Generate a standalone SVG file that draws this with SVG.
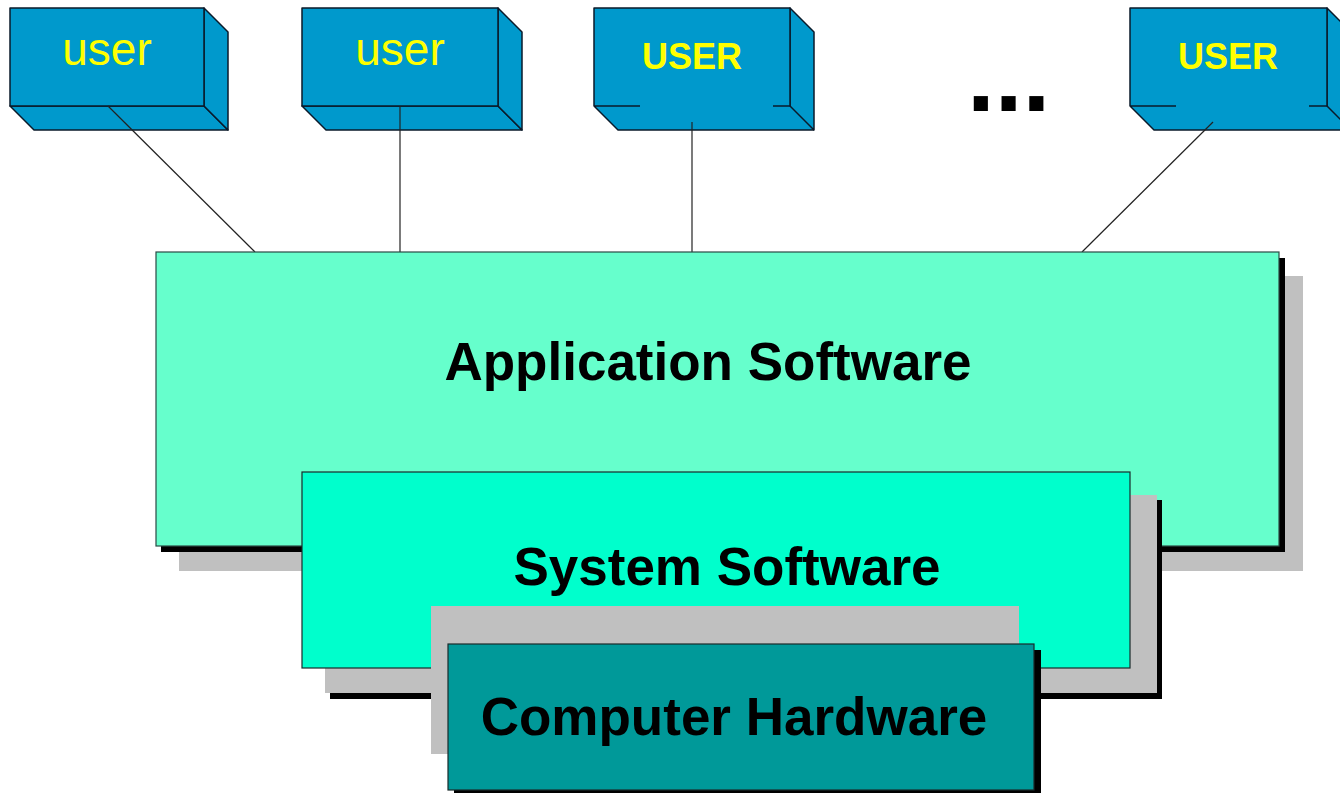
<svg xmlns="http://www.w3.org/2000/svg" width="1340" height="793" viewBox="0 0 1340 793">
<style>
.face{fill:#0099CC;stroke:#0a1a2a;stroke-width:1.5;stroke-linejoin:round}
.facens{fill:#0099CC;stroke:none}
.edge{stroke:#0a1a2a;stroke-width:1.5;fill:none;stroke-linejoin:round}
.ulow{font-family:"Liberation Sans",Arial,sans-serif;font-size:46px;fill:#FFFF00;text-anchor:middle}
.uup{font-family:"Liberation Sans",Arial,sans-serif;font-size:36px;font-weight:bold;fill:#FFFF00;text-anchor:middle}
.big{font-family:"Liberation Sans",Arial,sans-serif;font-size:53px;font-weight:bold;fill:#000;text-anchor:middle}
.gray{fill:#C0C0C0}
.blk{fill:#000}
.conn{stroke:#222;stroke-width:1.2;fill:none}
</style>
<rect width="1340" height="793" fill="#fff"/>

<g id="user1">
<polygon class="face" points="10,106 204,106 228,130 34,130"/>
<polygon class="face" points="204,8 228,32 228,130 204,106"/>
<rect class="face" x="10" y="8" width="194" height="98"/>
<text class="ulow" x="107" y="65">user</text>
</g>
<g id="user2">
<polygon class="face" points="302,106 498,106 522,130 326,130"/>
<polygon class="face" points="498,8 522,32 522,130 498,106"/>
<rect class="face" x="302" y="8" width="196" height="98"/>
<text class="ulow" x="400" y="65">user</text>
</g>
<g id="user3">
<polygon class="facens" points="594,106 790,106 814,130 618,130"/>
<polygon class="face" points="790,8 814,32 814,130 790,106"/>
<rect class="facens" x="594" y="8" width="196" height="98"/>
<path class="edge" d="M640,106 L594,106 L594,8 L790,8 L790,106 L773,106 M594,106 L618,130 L814,130"/>
<text class="uup" x="692" y="69">USER</text>
</g>
<g id="ellipsis">
<text x="967" y="111" font-family="Liberation Sans, Arial, sans-serif" font-size="100" font-weight="bold" fill="#000">...</text>
</g>
<g id="user4">
<polygon class="facens" points="1130,106 1327,106 1351,130 1154,130"/>
<polygon class="face" points="1327,8 1351,32 1351,130 1327,106"/>
<rect class="facens" x="1130" y="8" width="197" height="98"/>
<path class="edge" d="M1176,106 L1130,106 L1130,8 L1327,8 L1327,106 L1309,106 M1130,106 L1154,130 L1351,130"/>
<text class="uup" x="1228" y="69">USER</text>
</g>

<g id="connectors">
<line class="conn" x1="108" y1="106" x2="255" y2="252"/>
<line class="conn" x1="400" y1="106" x2="400" y2="252"/>
<line class="conn" x1="692" y1="122" x2="692" y2="252"/>
<line class="conn" x1="1213" y1="122" x2="1082" y2="252"/>
</g>

<g id="application">
<rect class="gray" x="179" y="276" width="1124" height="295"/>
<rect class="blk" x="161" y="258" width="1124" height="294"/>
<rect x="156" y="252" width="1123" height="294" fill="#66FFCC" stroke="#2a4a44" stroke-width="1.2"/>
<text class="big" x="708" y="380">Application Software</text>
</g>

<g id="system">
<rect class="blk" x="330" y="500" width="832" height="199"/>
<rect class="gray" x="325" y="495" width="832" height="198"/>
<rect x="302" y="472" width="828" height="196" fill="#00FFCC" stroke="#1a2a2a" stroke-width="1.2"/>
<text class="big" x="727" y="585">System Software</text>
</g>

<g id="hardware">
<rect class="gray" x="431" y="606" width="588" height="148"/>
<rect class="blk" x="454" y="650" width="587" height="146"/>
<rect x="448" y="644" width="586" height="146" fill="#009999" stroke="#1a2a2a" stroke-width="1.2"/>
<text class="big" x="734" y="735">Computer Hardware</text>
</g>
</svg>
